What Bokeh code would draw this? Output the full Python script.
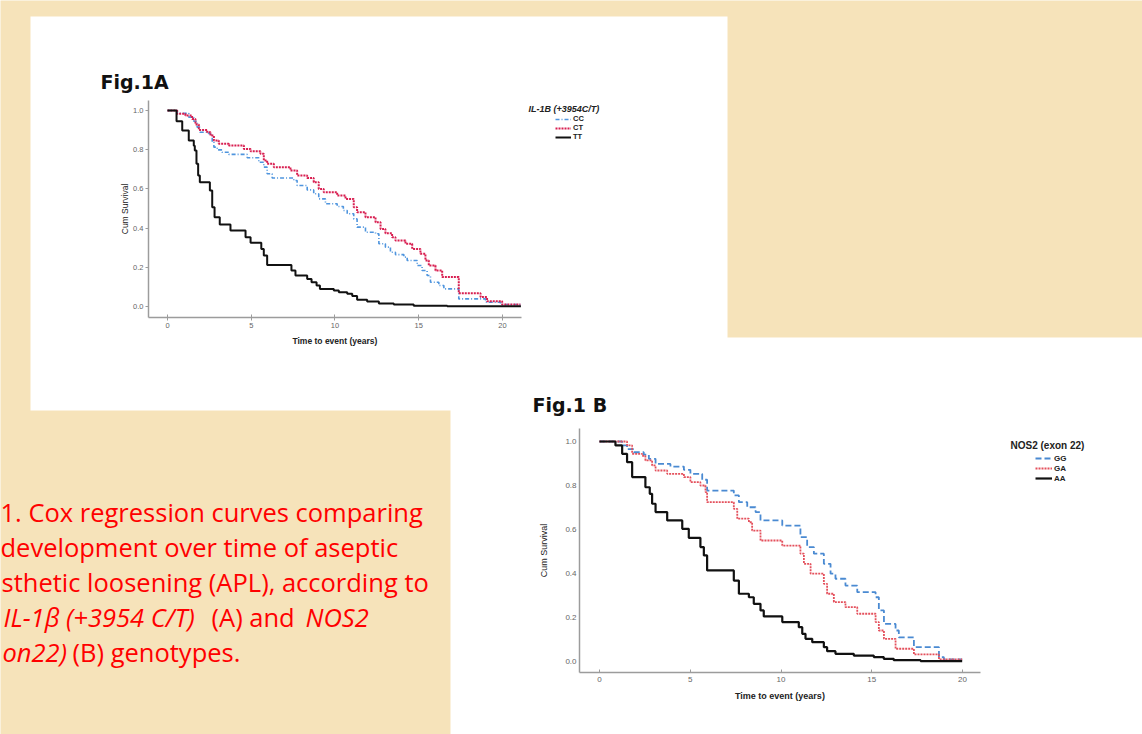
from bokeh.plotting import figure
from bokeh.models import Range1d, FixedTicker, NumeralTickFormatter, Legend, LegendItem, Label, Title
from bokeh.embed import file_html
from bokeh.resources import INLINE
from bokeh.core.properties import value

# ---------------- shared axis content ----------------
x_ticks = [0, 5, 10, 15, 20]
y_ticks = [0.0, 0.2, 0.4, 0.6, 0.8, 1.0]
x_title = "Time to event (years)"
y_title = "Cum Survival"

# ---------------- Fig.1A : IL-1B (+3954C/T) ----------------
a_fig_title = "Fig.1A"
a_legend_title = "IL-1B (+3954C/T)"
a_labels = ["CC", "CT", "TT"]
a_cc_time = [0, 0.58, 1.27, 1.57, 1.77, 1.93, 2.47, 2.67, 2.77, 2.97, 3.26, 3.66, 4.76, 5.45, 5.75, 5.95,
             6.25, 7.54, 7.74, 8.34, 8.73, 9.03, 9.43, 10.13, 10.5, 10.73, 11.12, 11.32, 11.82, 12.42,
             12.62, 13.01, 13.31, 13.61, 14.11, 14.31, 14.91, 15.2, 15.5, 15.7, 16.2, 16.5, 17.39,
             18.99, 19.88, 21.07]
a_cc_surv = [1.0, 0.986, 0.966, 0.945, 0.915, 0.889, 0.881, 0.838, 0.813, 0.799, 0.787, 0.776, 0.759,
             0.736, 0.711, 0.677, 0.656, 0.643, 0.617, 0.595, 0.575, 0.549, 0.524, 0.51, 0.49, 0.473,
             0.447, 0.405, 0.379, 0.371, 0.32, 0.303, 0.277, 0.265, 0.252, 0.235, 0.209, 0.184, 0.158,
             0.124, 0.107, 0.09, 0.039, 0.022, 0.01, 0.01]
a_ct_time = [0, 0.58, 1.07, 1.47, 1.67, 1.87, 2.37, 2.57, 2.77, 3.06, 3.66, 4.56, 4.96, 5.55, 5.75, 5.95,
             6.35, 7.34, 7.74, 8.34, 8.73, 9.03, 9.33, 10.13, 10.63, 11.12, 11.32, 11.82, 12.42, 12.72,
             13.01, 13.41, 13.61, 14.21, 14.61, 15.1, 15.4, 15.6, 16.0, 16.4, 17.39, 18.69, 19.08,
             19.98, 21.07]
a_ct_surv = [1.0, 0.983, 0.975, 0.957, 0.929, 0.901, 0.889, 0.872, 0.847, 0.83, 0.821, 0.804, 0.792,
             0.779, 0.745, 0.728, 0.711, 0.694, 0.668, 0.656, 0.634, 0.6, 0.583, 0.566, 0.549, 0.507,
             0.481, 0.456, 0.43, 0.396, 0.374, 0.354, 0.337, 0.32, 0.294, 0.269, 0.235, 0.209, 0.184,
             0.15, 0.068, 0.048, 0.027, 0.01, 0.01]
a_tt_time = [0, 0.54, 0.88, 1.27, 1.57, 1.63, 1.73, 1.83, 1.93, 2.53, 2.67, 2.81, 3.12, 3.76, 4.66, 4.96,
             5.6, 5.75, 5.95, 7.4, 7.64, 8.34, 8.6, 8.9, 9.1, 9.93, 10.23, 10.73, 11.03, 11.32, 11.92,
             12.62, 13.51, 14.7, 16.7, 21.1]
a_tt_surv = [1.0, 0.945, 0.898, 0.847, 0.82, 0.796, 0.728, 0.668, 0.634, 0.592, 0.507, 0.456, 0.418,
             0.388, 0.354, 0.325, 0.294, 0.26, 0.212, 0.184, 0.158, 0.141, 0.124, 0.107, 0.09, 0.082,
             0.073, 0.065, 0.054, 0.034, 0.026, 0.015, 0.01, 0.004, 0.001, 0.001]

# ---------------- Fig.1 B : NOS2 (exon 22) ----------------
b_fig_title = "Fig.1 B"
b_legend_title = "NOS2 (exon 22)"
b_labels = ["GG", "GA", "AA"]
b_gg_time = [0, 1.25, 1.52, 1.89, 2.44, 2.72, 3.09, 3.91, 4.65, 5.01, 5.66, 5.93, 7.4, 7.68, 8.14, 8.6,
             8.87, 10.07, 11.07, 11.44, 11.81, 12.36, 12.73, 13.0, 13.55, 14.2, 15.21, 15.39, 15.67,
             16.31, 16.49, 17.32, 18.7, 18.97, 19.98]
b_gg_surv = [1.0, 0.982, 0.965, 0.951, 0.94, 0.921, 0.898, 0.886, 0.871, 0.853, 0.826, 0.777, 0.755,
             0.724, 0.701, 0.679, 0.641, 0.618, 0.565, 0.52, 0.49, 0.444, 0.399, 0.376, 0.345, 0.315,
             0.292, 0.232, 0.171, 0.141, 0.11, 0.065, 0.02, 0.01, 0.01]
b_ga_time = [0, 1.52, 1.8, 2.35, 2.53, 2.9, 3.09, 3.73, 4.65, 5.01, 5.56, 5.84, 5.93, 7.4, 7.59, 8.23,
             8.41, 8.87, 10.07, 11.07, 11.26, 11.63, 12.36, 12.54, 12.91, 13.55, 14.2, 15.21, 15.39,
             15.67, 16.31, 17.32, 18.7, 19.98]
b_ga_surv = [1.0, 0.982, 0.944, 0.935, 0.914, 0.891, 0.868, 0.853, 0.838, 0.815, 0.8, 0.77, 0.724,
             0.694, 0.649, 0.633, 0.595, 0.55, 0.527, 0.49, 0.444, 0.399, 0.353, 0.308, 0.27, 0.247,
             0.217, 0.179, 0.141, 0.103, 0.058, 0.032, 0.01, 0.01]
b_aa_time = [0, 0.88, 1.25, 1.52, 1.8, 2.53, 2.77, 2.9, 3.09, 3.73, 4.56, 4.92, 5.56, 5.75, 5.93, 7.4,
             7.68, 8.23, 8.5, 8.87, 9.05, 10.07, 10.98, 11.17, 11.35, 11.72, 12.36, 12.54, 13.0, 14.01,
             15.11, 15.66, 16.21, 17.69, 19.98]
b_aa_surv = [1.0, 0.982, 0.944, 0.906, 0.838, 0.792, 0.762, 0.717, 0.679, 0.641, 0.603, 0.562, 0.52,
             0.482, 0.414, 0.368, 0.308, 0.292, 0.262, 0.232, 0.205, 0.179, 0.156, 0.126, 0.103, 0.088,
             0.065, 0.047, 0.035, 0.027, 0.02, 0.012, 0.006, 0.002, 0.002]

# ---------------- caption (visible part of the red slide text) ----------------
caption_normal = ["1. Cox regression curves comparing",
                  "development over time of aseptic",
                  "sthetic loosening (APL), according to",
                  "(A) and", "(B) genotypes."]
caption_italic = ["IL-1\u03b2 (+3954 C/T)", "NOS2", "on22)"]

PARCH = "#F6E3BA"

# ---------------- page (background, panels, captions) ----------------
page = figure(width=1142, height=734, x_range=Range1d(0, 1142), y_range=Range1d(734, 0),
              output_backend="svg", toolbar_location=None,
              min_border_left=0, min_border_right=0, min_border_top=0, min_border_bottom=0,
              x_axis_location=None, y_axis_location=None,
              background_fill_color=PARCH, border_fill_color=PARCH, outline_line_color=None,
              styles={"position": "absolute", "left": "0px", "top": "0px"})
page.grid.visible = False
page.quad(left=[30, 450], right=[727, 1142], top=[16, 337], bottom=[410, 734],
          fill_color="white", line_color=None)
page.text(x=[100, 532], y=[81, 404], text=[a_fig_title, b_fig_title],
          text_font=value("DejaVu Sans"), text_font_style="bold", text_font_size=value("19px"),
          text_color="#111111", text_baseline="alphabetic", text_align="left")
page.text(x=[0, 0, 1, 211, 72], y=[511.5, 546.5, 581.5, 616.5, 651.5],
          text=caption_normal, text_font=value("Open Sans"), text_font_size=value("25.5px"),
          text_color="#FF0000", text_baseline="alphabetic", text_align="left")
page.text(x=[3, 305, 2], y=[616.5, 616.5, 651.5], text=caption_italic,
          text_font=value("Open Sans"), text_font_style="italic", text_font_size=value("25.5px"),
          text_color="#FF0000", text_baseline="alphabetic", text_align="left")


def make_chart(frame_left, frame_top, frame_w, frame_h, xr, x_axis_end, yr, borders,
               title_size, title_width):
    bl, bt, br, bb = borders
    p = figure(width=bl + frame_w + br, height=bt + frame_h + bb,
               x_range=Range1d(*xr), y_range=Range1d(*yr),
               min_border_left=bl, min_border_top=bt, min_border_right=br, min_border_bottom=bb,
               output_backend="svg", toolbar_location=None,
               background_fill_color=None, border_fill_color=None, outline_line_color=None,
               styles={"position": "absolute", "left": f"{frame_left - bl}px",
                       "top": f"{frame_top - bt}px"})
    p.grid.visible = False
    p.xaxis.bounds = (xr[0], x_axis_end)
    p.xaxis.ticker = FixedTicker(ticks=x_ticks)
    p.yaxis.ticker = FixedTicker(ticks=y_ticks)
    p.yaxis.formatter = NumeralTickFormatter(format="0.0")
    p.yaxis.axis_label = y_title
    p.axis.axis_line_color = "#9c9c9c"
    p.axis.axis_line_width = 1.5
    p.axis.major_tick_line_color = "#9c9c9c"
    p.axis.minor_tick_line_color = None
    p.axis.major_label_text_color = "#666666"
    p.axis.major_label_text_font = "Liberation Sans"
    p.axis.axis_label_text_font = "Liberation Sans"
    p.axis.axis_label_text_color = "#222222"
    p.yaxis.axis_label_text_font_style = "normal"
    # x-axis title, centred under the (bounded) axis line rather than the wider frame
    axis_px = (x_axis_end - xr[0]) / (xr[1] - xr[0]) * frame_w
    p.add_layout(Title(text=x_title, align="left", offset=axis_px / 2 - title_width / 2,
                       text_font="Liberation Sans", text_font_style="bold",
                       text_font_size=title_size, text_color="#222222"), "below")
    return p


# ---------------- chart A ----------------
# axis 148..521 px (x -1.134..21.13); frame widened to 640 px for the legend
pa = make_chart(148, 100, 492, 217, (-1.134, 28.24), 21.13, (-0.056, 1.051), (40, 20, 6, 40),
                "8.5px", 85)
pa.axis.major_label_text_font_size = "7.5px"
pa.axis.axis_label_text_font_size = "8.5px"
pa.below[-1].standoff = 6
pa.xaxis.major_tick_in = 3
pa.xaxis.major_tick_out = 3
pa.yaxis.major_tick_in = 0
pa.yaxis.major_tick_out = 3
pa.xaxis.major_label_standoff = 2
pa.yaxis.major_label_standoff = 2
pa.yaxis.axis_label_standoff = 0

ra_cc = pa.step(a_cc_time, a_cc_surv, mode="after", line_color="#4F95DE", line_width=1.6, line_dash="4 2 1 2")
ra_ct = pa.step(a_ct_time, a_ct_surv, mode="after", line_color="#D81E50", line_width=2, line_dash="2 1")
ra_tt = pa.step(a_tt_time, a_tt_surv, mode="after", line_color="#111111", line_width=2)

leg_a = Legend(items=[LegendItem(label=a_labels[0], renderers=[ra_cc]),
                      LegendItem(label=a_labels[1], renderers=[ra_ct]),
                      LegendItem(label=a_labels[2], renderers=[ra_tt])],
               location=(407, 176), glyph_width=16, glyph_height=8, label_height=8,
               spacing=0, padding=0, margin=0, label_standoff=2,
               label_text_font="Liberation Sans", label_text_font_size="7.5px",
               label_text_font_style="bold", label_text_color="#222222",
               background_fill_alpha=0, border_line_color=None)
pa.add_layout(leg_a)
pa.add_layout(Label(x=380, y=209, x_units="screen", y_units="screen", text=a_legend_title,
                    text_font="Liberation Sans", text_font_size="9px", text_font_style="bold italic",
                    text_color="#222222", text_baseline="middle", text_align="left"))

# ---------------- chart B ----------------
# axis 579..980 px (x -1.10..20.99); frame widened to 1110 px for the legend
pb = make_chart(579, 428, 531, 244, (-1.10, 28.15), 20.99, (-0.05, 1.059), (45, 25, 10, 40),
                "9px", 90)
pb.axis.major_label_text_font_size = "8px"
pb.axis.axis_label_text_font_size = "9px"
pb.below[-1].standoff = 9
pb.xaxis.major_tick_in = 3
pb.xaxis.major_tick_out = 0
pb.yaxis.major_tick_in = 0
pb.yaxis.major_tick_out = 0
pb.xaxis.major_label_standoff = 4
pb.yaxis.major_label_standoff = 3
pb.yaxis.axis_label_standoff = 13

rb_gg = pb.step(b_gg_time, b_gg_surv, mode="after", line_color="#4A8AD2", line_width=1.8, line_dash="6 3")
rb_ga = pb.step(b_ga_time, b_ga_surv, mode="after", line_color="#E4505C", line_width=1.8, line_dash="2 1")
rb_aa = pb.step(b_aa_time, b_aa_surv, mode="after", line_color="#111111", line_width=2.2)

leg_b = Legend(items=[LegendItem(label=b_labels[0], renderers=[rb_gg]),
                      LegendItem(label=b_labels[1], renderers=[rb_ga]),
                      LegendItem(label=b_labels[2], renderers=[rb_aa])],
               location=(456, 189), glyph_width=17, glyph_height=10, label_height=10,
               spacing=0, padding=0, margin=0, label_standoff=2,
               label_text_font="Liberation Sans", label_text_font_size="8px",
               label_text_font_style="bold", label_text_color="#222222",
               background_fill_alpha=0, border_line_color=None)
pb.add_layout(leg_b)
pb.add_layout(Label(x=431, y=227, x_units="screen", y_units="screen", text=b_legend_title,
                    text_font="Liberation Sans", text_font_size="10px", text_font_style="bold",
                    text_color="#222222", text_baseline="middle", text_align="left"))

p = [page, pa, pb]

open("out.html", "w").write(file_html(p, INLINE))
